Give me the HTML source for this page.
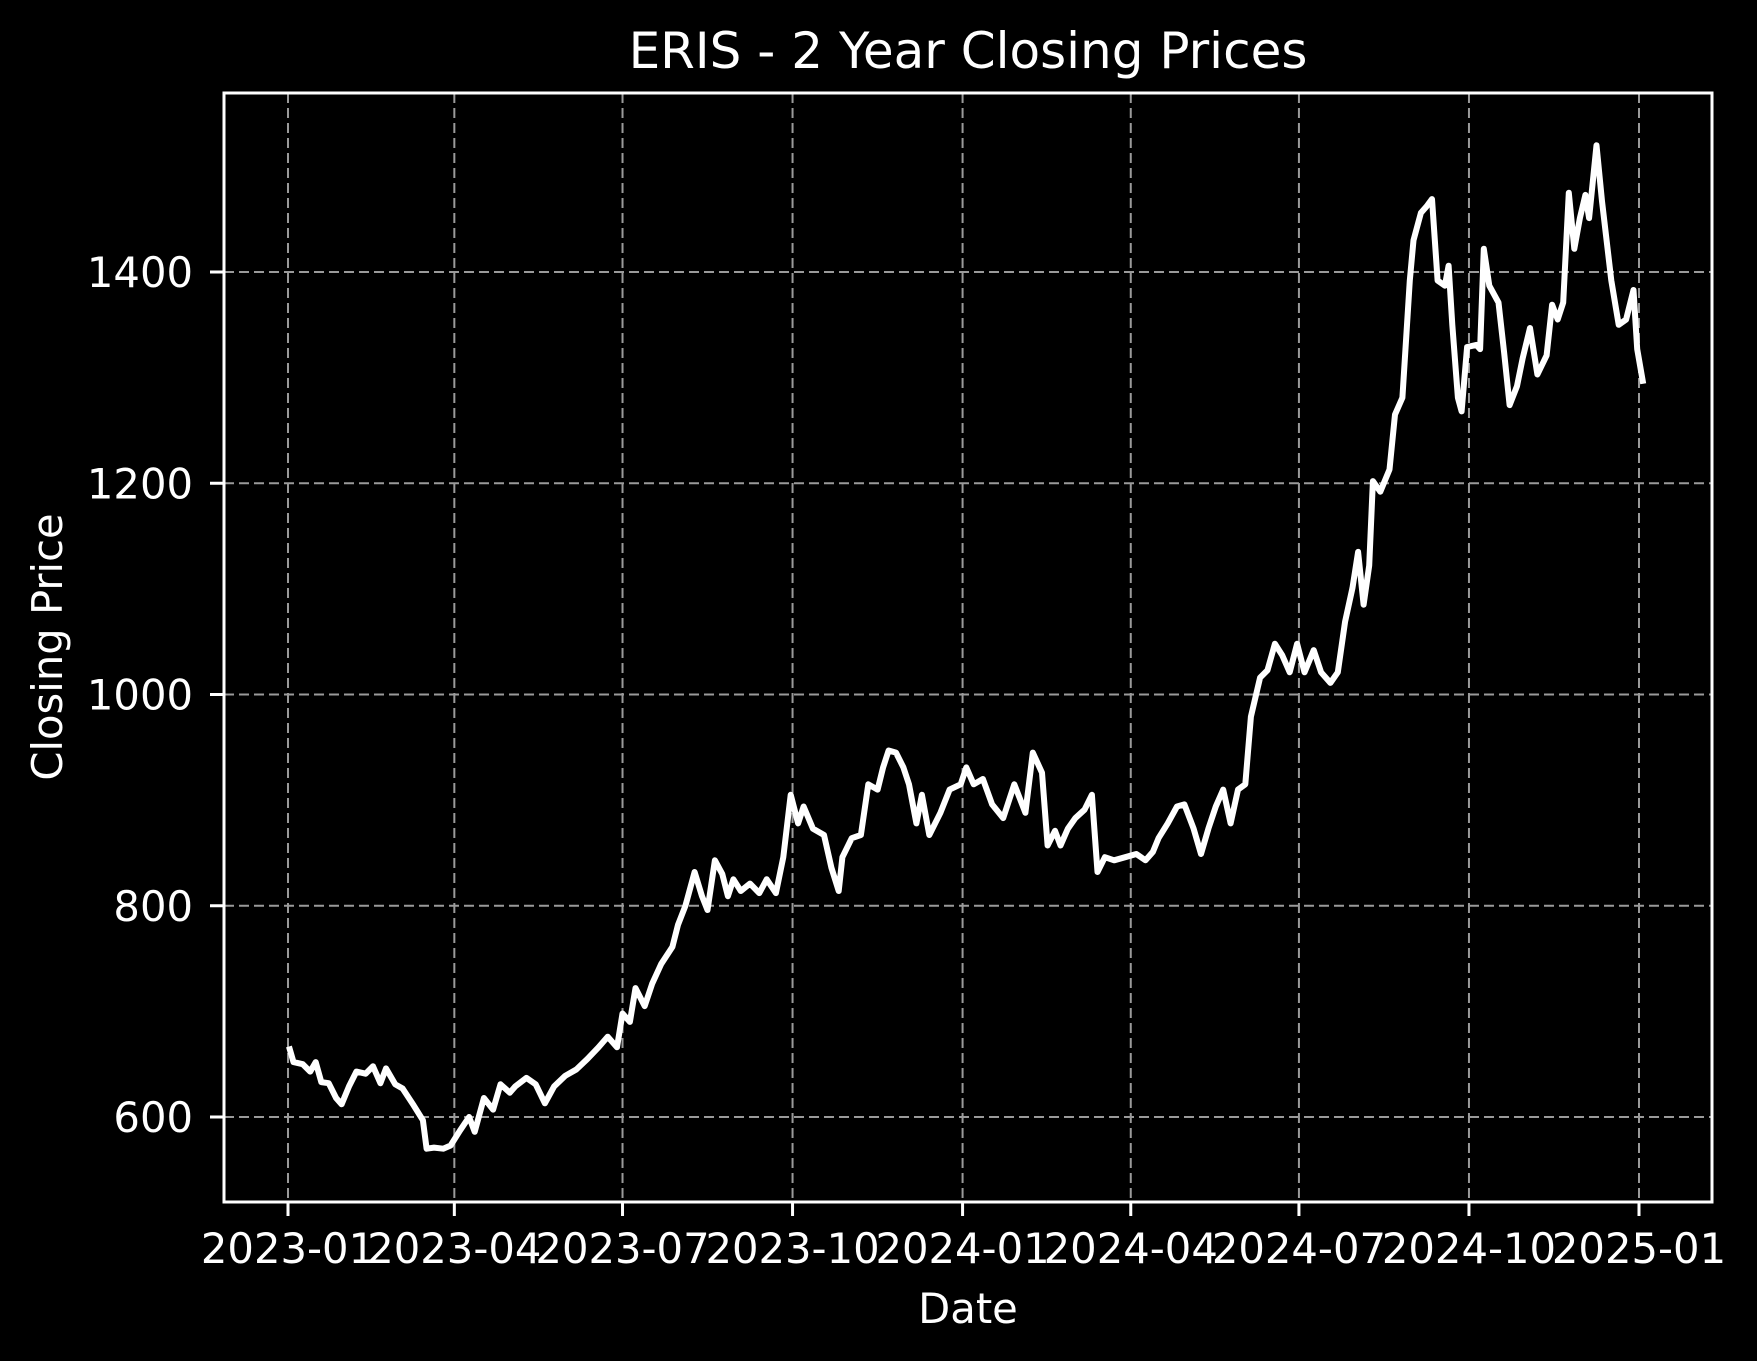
<!DOCTYPE html>
<html><head><meta charset="utf-8"><style>
html,body{margin:0;padding:0;background:#000;}
svg{display:block;font-family:"DejaVu Sans","Liberation Sans",sans-serif;}
</style></head><body>
<svg id="chart" width="1757" height="1361" viewBox="0 0 1757 1361">
<rect width="1757" height="1361" fill="#000"/>
<g id="grid"></g>
<g id="series"></g>
<rect x="224" y="93" width="1488" height="1109" fill="none" stroke="#fff" stroke-width="3"/>
<g id="ticks"></g>
<text x="968" y="68" fill="#fff" font-size="50" text-anchor="middle">ERIS - 2 Year Closing Prices</text>
<text x="968" y="1323" fill="#fff" font-size="41.7" text-anchor="middle">Date</text>
<text transform="translate(62,647) rotate(-90)" fill="#fff" font-size="41.7" text-anchor="middle">Closing Price</text>
</svg>
<script>
const xTickDays=[0,90,181,273,365,456,547,639,731];
const xTickLabels=["2023-01","2023-04","2023-07","2023-10","2024-01","2024-04","2024-07","2024-10","2025-01"];
const yTicks=[600,800,1000,1200,1400];
const days=[1,3,8,12,15,18,22,26,29,33,37,42,46,50,53,58,62,68,73,75,79,84,88,93,98,101,106,111,115,120,123,129,134,139,144,150,156,162,168,173,178,181,185,188,193,197,202,208,211,215,220,224,227,231,235,238,241,245,250,255,259,264,268,272,276,279,284,290,294,298,300,305,310,314,319,322,325,329,333,336,340,343,347,353,358,364,367,371,376,381,387,393,399,403,408,411,415,418,422,426,431,435,438,442,447,453,459,464,468,471,476,481,485,490,494,498,502,506,510,514,518,521,526,530,534,538,542,546,550,555,559,564,568,572,576,579,582,585,587,591,596,599,603,607,609,613,616,619,622,626,628,630,633,635,638,643,645,647,650,655,658,661,665,668,672,676,681,684,687,690,693,696,699,702,704,708,711,716,720,724,728,730,733];
const prices=[664,652,650,643,652,633,632,618,612,629,643,641,648,632,646,631,627,611,597,570,571,570,573,587,600,586,618,607,631,623,629,637,631,613,629,639,645,655,666,676,666,698,690,722,705,726,745,761,782,800,832,809,796,843,830,809,825,814,821,812,825,812,846,905,878,894,873,867,836,814,846,864,867,915,910,931,947,945,931,915,878,905,867,888,910,915,931,915,920,896,883,915,888,945,926,857,871,857,873,883,891,905,832,846,843,846,849,843,851,864,878,894,896,873,849,873,894,910,878,910,915,979,1016,1023,1048,1037,1021,1048,1021,1042,1021,1011,1021,1069,1101,1135,1085,1122,1202,1192,1213,1265,1281,1392,1430,1456,1462,1469,1392,1387,1406,1350,1281,1268,1329,1331,1327,1422,1387,1371,1324,1274,1292,1318,1347,1303,1321,1369,1355,1371,1475,1422,1451,1473,1451,1520,1467,1392,1350,1355,1383,1327,1297];

const L=224,R=1712,T=93,B=1202;
const x=d=>288+d*(1351/731);
const y=v=>1117-(v-600)*(845/800);
const NS="http://www.w3.org/2000/svg";
function mk(tag,attrs,parent){const e=document.createElementNS(NS,tag);for(const k in attrs)e.setAttribute(k,attrs[k]);parent.appendChild(e);return e;}
const grid=document.getElementById('grid'),ticks=document.getElementById('ticks'),series=document.getElementById('series');
xTickDays.forEach((d,i)=>{
  const g=mk('line',{x1:x(d),x2:x(d),y1:T,y2:B,stroke:'#9a9a9a','stroke-width':2,'stroke-dasharray':'10,5'},grid);
  
  
  const t=mk('line',{x1:x(d),x2:x(d),y1:B,y2:B+14,stroke:'#fff','stroke-width':3},ticks);
  
  
  const lb=mk('text',{x:x(d),y:1263,fill:'#fff','font-size':41.7,'text-anchor':'middle'},ticks);
  lb.textContent=xTickLabels[i];
  
  
});
yTicks.forEach(v=>{
  const g=mk('line',{x1:L,x2:R,y1:y(v),y2:y(v),stroke:'#9a9a9a','stroke-width':2,'stroke-dasharray':'10,5'},grid);
  
  
  const t=mk('line',{x1:L-14,x2:L,y1:y(v),y2:y(v),stroke:'#fff','stroke-width':3},ticks);
  
  
  const lb=mk('text',{x:193,y:y(v)+15,fill:'#fff','font-size':41.7,'text-anchor':'end'},ticks);
  lb.textContent=v;
  
  
});
const pts=days.map((d,i)=>x(d).toFixed(1)+','+y(prices[i]).toFixed(1)).join(' ');
const pl=mk('polyline',{points:pts,fill:'none',stroke:'#fff','stroke-width':6,'stroke-linejoin':'round','stroke-linecap':'square'},series);


</script>
</body></html>
